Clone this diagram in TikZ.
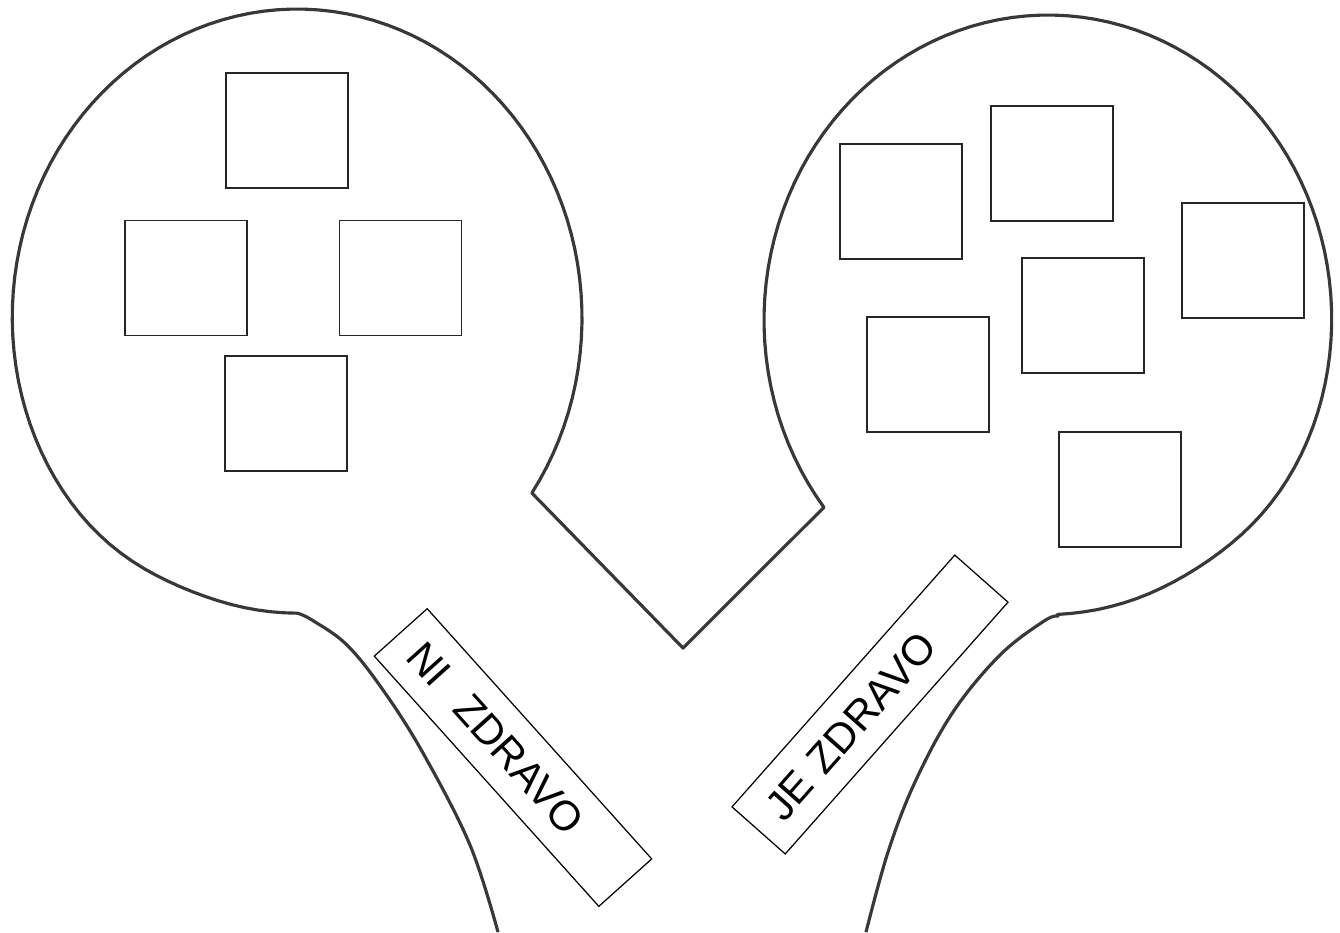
\documentclass[tikz,border=0pt]{standalone}
\usepackage{fontspec}
\setmainfont{Liberation Sans}
\begin{document}
\begin{tikzpicture}[x=0.01cm, y=-0.01cm,
  outline/.style={line width=0.9pt, draw=black!78, line join=round},
  cell/.style={draw=black!85, line width=0.45pt, minimum width=1.22cm, minimum height=1.15cm, inner sep=0pt},
  tag/.style={draw, line width=0.35pt, minimum width=3.36cm, minimum height=0.71cm, inner xsep=0.22cm, inner ysep=0pt, text width=2.92cm, align=left, font=\fontsize{11.9}{13}\selectfont}]
\fill[white] (0,0) rectangle (1340,932);
\useasboundingbox (0,0) rectangle (1340,932);
% two rackets, one outline
\draw[outline] plot[smooth, tension=0.6] coordinates {(498,932) (470,845) (423,753) (383,690) (347,645) (312,620) (297,613)}
  -- plot[domain=90:394.5, samples=110] ({297+285*(1-0.045/(1+((\x-95)/32)^4))*cos(\x)}, {318+309*(1-0.045/(1+((\x-95)/32)^4))*sin(\x)})
  -- (683,648)
  -- plot[domain=142.1:448, samples=110] ({1048+284*(1-0.035/(1+((\x-435)/32)^4))*cos(\x)}, {320+305*(1-0.035/(1+((\x-435)/32)^4))*sin(\x)})
  -- plot[smooth, tension=0.6] coordinates {(1058,616) (1044,621) (1000,655) (953,712) (915,782) (888,852) (866,932)};
% left head
\node[cell] (lt) at (287,130.5) {};
\node[cell] (ll) at (186,278) {};
\node[cell] (lr) at (400.5,278) {};
\node[cell] (lb) at (286,413.5) {};
% right head
\node[cell] (r1) at (901,201.5) {};
\node[cell] (r2) at (1052,163.5) {};
\node[cell] (r3) at (1243,260.5) {};
\node[cell] (r4) at (1083,315.5) {};
\node[cell] (r5) at (928,374.5) {};
\node[cell] (r6) at (1120,489.5) {};
% labels
\node[tag, rotate=-48.1] (ni) at (513,757.5) {NI\ \ ZDRAVO};
\node[tag, rotate=48.5] (je) at (870,704.5) {JE ZDRAVO};
\end{tikzpicture}
\end{document}
